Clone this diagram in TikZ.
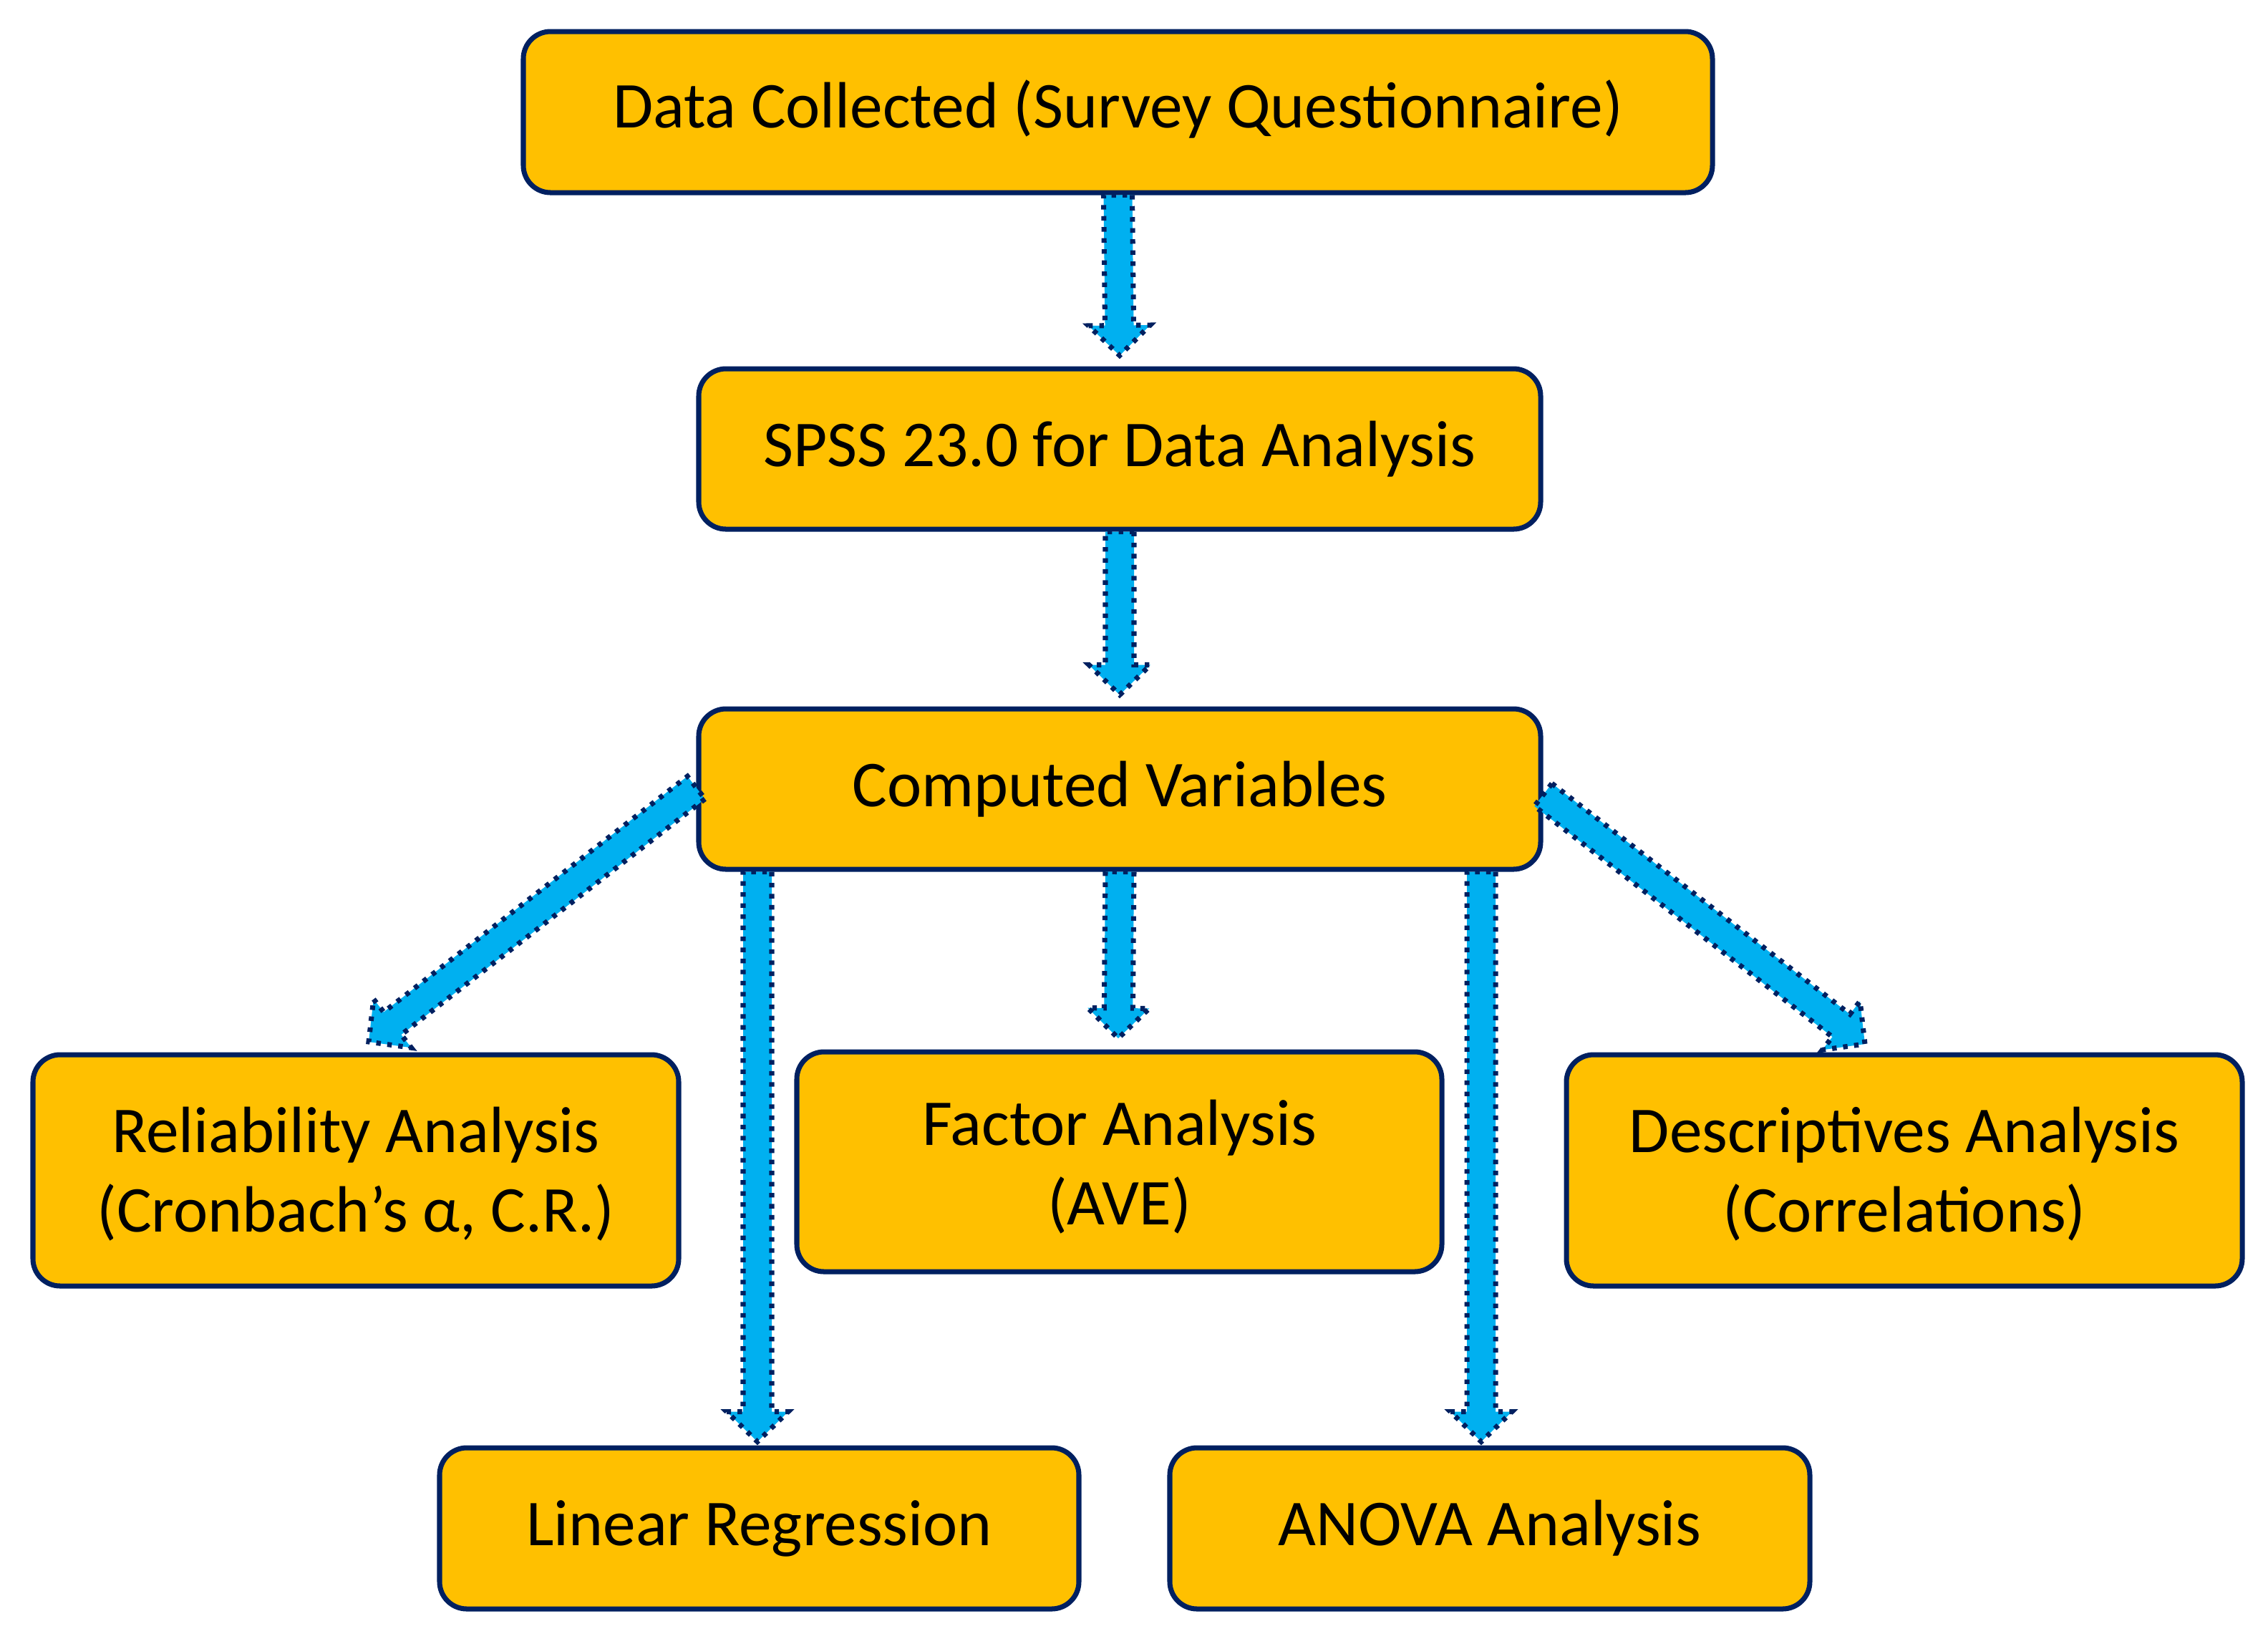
\documentclass[tikz,border=0pt]{standalone}
\usepackage{fontspec}
\setmainfont{Carlito}
\usetikzlibrary{calc}
\definecolor{boxfill}{HTML}{FFC000}
\definecolor{navy}{HTML}{002060}
\definecolor{arrowfill}{HTML}{00B0F0}
\tikzset{
  flowbox/.style={draw=navy, line width=2pt, fill=boxfill, rounded corners=0.38cm,
    align=center, inner sep=0pt, font=\fontsize{26}{31.5}\selectfont, text=black},
  blockarrow/.style={draw=navy, fill=arrowfill, line width=2pt, dash pattern=on 1.8pt off 2.6pt}
}
\newcommand{\blkarrow}[2]{%
  \path let \p1=(#1), \p2=(#2), \n{ang}={atan2(\y2-\y1,\x2-\x1)}, \n{len}={veclen(\x2-\x1,\y2-\y1)} in
    [blockarrow]
    ($(\p1)+(\n{ang}+90:0.2cm)$) --
    ($(\p1)+(\n{ang}:{(\n{len})*1pt-0.42cm})+(\n{ang}+90:0.2cm)$) --
    ($(\p1)+(\n{ang}:{(\n{len})*1pt-0.42cm})+(\n{ang}+90:0.43cm)$) --
    (\p2) --
    ($(\p1)+(\n{ang}:{(\n{len})*1pt-0.42cm})+(\n{ang}-90:0.43cm)$) --
    ($(\p1)+(\n{ang}:{(\n{len})*1pt-0.42cm})+(\n{ang}-90:0.2cm)$) --
    ($(\p1)+(\n{ang}-90:0.2cm)$) -- cycle;%
}
\newcommand{\twolines}[3]{\raisebox{#1}[\height][\depth]{\begin{tabular}{@{}c@{}}#2\\#3\end{tabular}}}
\begin{document}
\begin{tikzpicture}
\useasboundingbox (0,0) rectangle (31.68,-23.02);
\node[flowbox, minimum width=16.61cm, minimum height=2.25cm] (data) at (15.615,-1.565) {\raisebox{0.04cm}[\height][\depth]{Data Collected (Survey Questionnaire)}};
\node[flowbox, minimum width=11.76cm, minimum height=2.24cm] (spss) at (15.64,-6.27) {SPSS 23.0 for Data Analysis};
\node[flowbox, minimum width=11.76cm, minimum height=2.24cm] (comp) at (15.64,-11.02) {Computed Variables};
\node[flowbox, minimum width=9.02cm, minimum height=3.23cm] (rel) at (4.97,-16.345) {\twolines{-0.08cm}{Reliability Analysis}{(Cronbach’s α, C.R.)}};
\node[flowbox, minimum width=9.01cm, minimum height=3.07cm] (fac) at (15.635,-16.225) {\twolines{-0.1cm}{Factor Analysis}{(AVE)}};
\node[flowbox, minimum width=9.44cm, minimum height=3.23cm] (desc) at (26.60,-16.345) {\twolines{-0.08cm}{Descriptives Analysis}{(Correlations)}};
\node[flowbox, minimum width=8.93cm, minimum height=2.25cm] (lin) at (10.605,-21.345) {Linear Regression};
\node[flowbox, minimum width=8.94cm, minimum height=2.25cm] (anova) at (20.81,-21.345) {ANOVA Analysis};

\coordinate (a1s) at (data.south);
\coordinate (a1e) at ($(spss.north)+(0,0.15)$);
\coordinate (a2s) at (spss.south);
\coordinate (a2e) at ($(comp.north)+(0,0.16)$);
\coordinate (a3s) at ($(comp.west)+(0,0.02)$);
\coordinate (a3e) at (5.15,-14.55);
\coordinate (a4s) at (comp.south -| 10.58,0);
\coordinate (a4e) at ($(lin.north -| 10.58,0)+(0,0.05)$);
\coordinate (a5s) at (comp.south);
\coordinate (a5e) at (15.62,-14.50);
\coordinate (a6s) at (comp.south -| 20.69,0);
\coordinate (a6e) at ($(anova.north -| 20.69,0)+(0,0.05)$);
\coordinate (a7s) at ($(comp.east)+(0,-0.08)$);
\coordinate (a7e) at (26.05,-14.58);

\blkarrow{a1s}{a1e}
\blkarrow{a2s}{a2e}
\blkarrow{a3s}{a3e}
\blkarrow{a4s}{a4e}
\blkarrow{a5s}{a5e}
\blkarrow{a6s}{a6e}
\blkarrow{a7s}{a7e}
\end{tikzpicture}
\end{document}
